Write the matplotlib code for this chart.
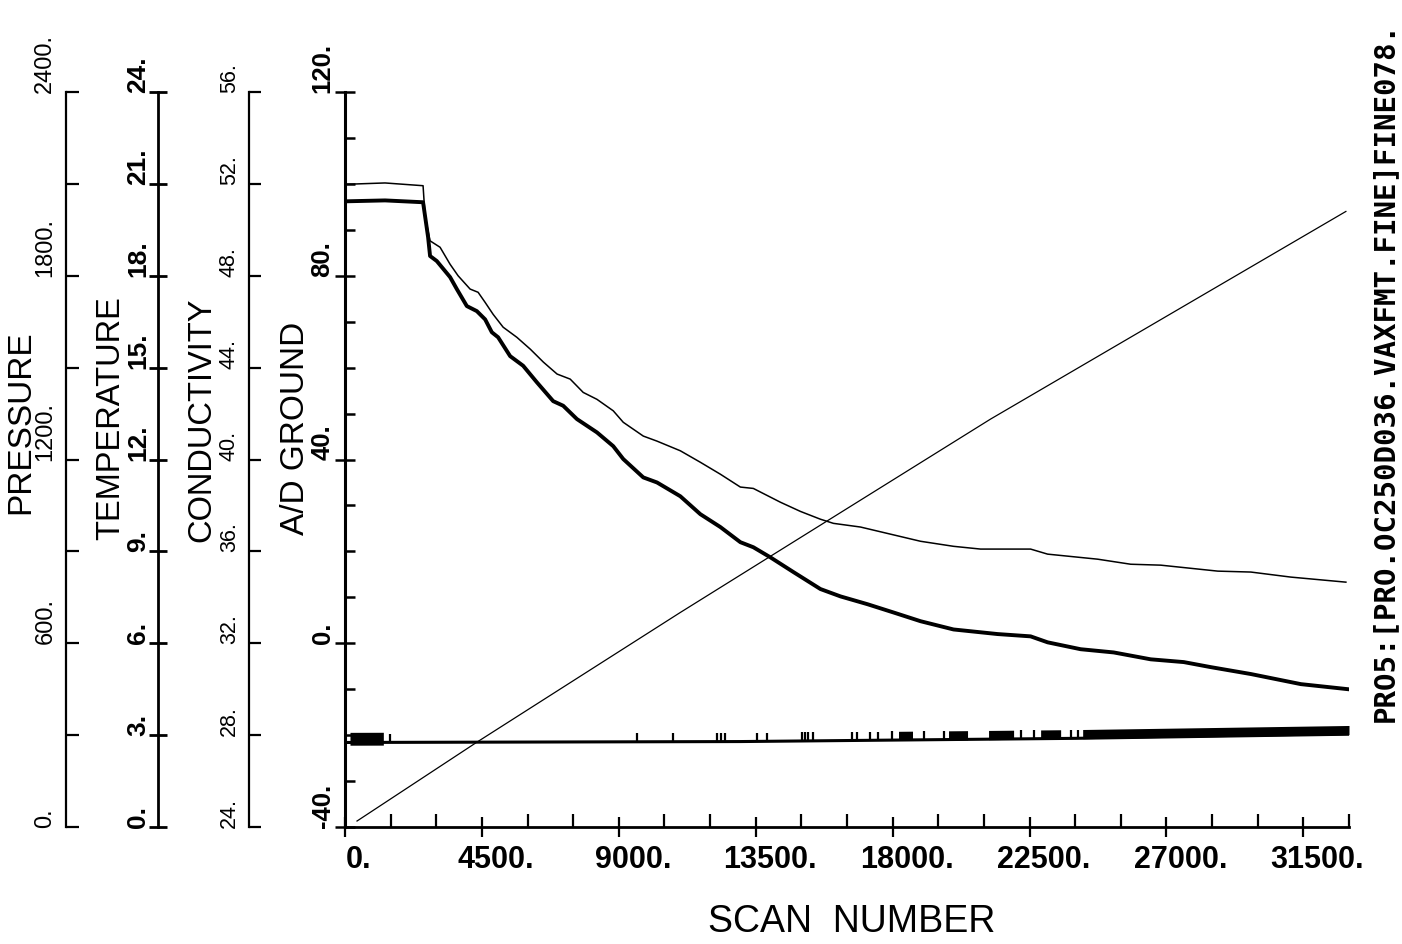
import numpy as np
import matplotlib.pyplot as plt
from matplotlib.ticker import FixedLocator, MultipleLocator
from matplotlib.transforms import ScaledTranslation

plt.rcParams['font.family'] = ['Liberation Sans', 'DejaVu Sans']

# curves, in A/D GROUND units against scan number
thick_scan = [0, 1316, 2566, 2731, 2796, 3017, 3454, 3675, 4004, 4333,
              4606, 4826, 5033, 5428, 5856, 6307, 6843, 7172, 7623, 8281,
              8817, 9146, 9804, 10255, 11021, 11679, 12337, 12995, 13422, 13982,
              14738, 15627, 16285, 17173, 18028, 18916, 20002, 21450, 22535, 23094,
              24180, 25266, 26483, 27569, 28457, 29773, 31418, 32964]
thick_val = [96.2, 96.4, 96.0, 88.4, 84.3, 83.2, 79.7, 77.1, 73.4, 72.3,
             70.5, 67.7, 66.6, 62.5, 60.4, 56.8, 52.7, 51.7, 48.8, 45.9,
             42.9, 40.1, 36.1, 35.0, 32.0, 28.1, 25.3, 22.0, 20.9, 18.7,
             15.5, 11.8, 10.2, 8.5, 6.7, 4.8, 3.0, 2.0, 1.5, 0.2,
             -1.3, -2.0, -3.5, -4.1, -5.2, -6.7, -8.9, -10.0]

thin_scan = [0, 1316, 2566, 2632, 2796, 3125, 3454, 3717, 4112, 4375,
             4606, 4869, 5198, 5649, 6093, 6520, 6971, 7402, 7830, 8281,
             8817, 9146, 9804, 10255, 11021, 11679, 12337, 12995, 13422, 14311,
             14969, 15627, 16054, 16942, 18916, 20002, 20890, 22535, 23094, 24739,
             25825, 26812, 28687, 29773, 31089, 32898]
thin_val = [99.9, 100.2, 99.6, 92.9, 87.6, 86.2, 82.5, 80.0, 77.1, 76.4,
            74.2, 71.6, 68.8, 66.6, 64.0, 61.2, 58.6, 57.5, 54.6, 53.1,
            50.6, 48.1, 45.1, 44.0, 41.9, 39.4, 36.8, 34.0, 33.7, 30.7,
            28.7, 27.0, 26.1, 25.3, 22.2, 21.1, 20.5, 20.5, 19.4, 18.3,
            17.2, 17.0, 15.7, 15.5, 14.4, 13.3]

diag_scan = [395, 4343, 11021, 21219, 32898]
diag_val = [-38.7, -21.5, 6.7, 48.8, 94.0]

# flag trace near the bottom: baseline, single spikes and solid stretches
flag_base_scan = [0, 13000, 24000, 33000]
flag_base_val = [-21.6, -21.4, -20.7, -19.8]
flag_spikes = [1480, 9596, 10781, 12228, 12360, 12501, 13544, 13873,
               15034, 15133, 15232, 15396, 16679, 16844, 17271, 17535,
               17995, 19015, 19673, 22206, 22634, 23851, 24081]
flag_dense = [(18193, 18653), (19837, 20462), (21153, 21976),
              (22864, 23522), (24246, 33000)]
flag_start = (164, 1260)
spike_h = 1.9

x_major = [0, 4500, 9000, 13500, 18000, 22500, 27000, 31500]
x_labels = ['0.', '4500.', '9000.', '13500.', '18000.', '22500.', '27000.', '31500.']

ad_ticks = [-40, 0, 40, 80, 120]
ad_labels = ['-40.', '0.', '40.', '80.', '120.']
p_ticks = [0, 600, 1200, 1800, 2400]
p_labels = ['0.', '600.', '1200.', '1800.', '2400.']
t_ticks = [0, 3, 6, 9, 12, 15, 18, 21, 24]
t_labels = ['0.', '3.', '6.', '9.', '12.', '15.', '18.', '21.', '24.']
c_ticks = [24, 28, 32, 36, 40, 44, 48, 52, 56]
c_labels = ['24.', '28.', '32.', '36.', '40.', '44.', '48.', '52.', '56.']

W, H = 1402, 945
fig = plt.figure(figsize=(W / 100, H / 100), dpi=100)
fig.patch.set_facecolor('white')

left, right, top, bottom = 345, 1349, 93, 828
ax = fig.add_axes([left / W, 1 - bottom / H, (right - left) / W, (bottom - top) / H])
ax.set_xlim(0, 33000)
ax.set_ylim(-40, 120)
ax.patch.set_alpha(0)
for s in ['top', 'right']:
    ax.spines[s].set_visible(False)
ax.spines['left'].set_linewidth(2.2)
ax.spines['bottom'].set_linewidth(2.0)

# x axis
ax.xaxis.set_major_locator(FixedLocator(x_major))
ax.set_xticklabels(x_labels, fontsize=22, fontweight='bold')
ax.xaxis.set_minor_locator(MultipleLocator(1500))
ax.tick_params(axis='x', which='major', direction='inout', length=14, width=1.6, pad=5)
ax.tick_params(axis='x', which='minor', direction='in', length=9.5, width=1.6)
shift = ScaledTranslation(0.14, 0, fig.dpi_scale_trans)
for lab in ax.get_xticklabels():
    lab.set_transform(lab.get_transform() + shift)

# A/D ground axis
ax.yaxis.set_major_locator(FixedLocator(ad_ticks))
ax.set_yticklabels(ad_labels, fontsize=18.5, fontweight='bold')
ax.yaxis.set_minor_locator(MultipleLocator(10))
ax.tick_params(axis='y', which='major', direction='inout', length=14, width=1.8, pad=0.5,
               labelrotation=90)
ax.tick_params(axis='y', which='minor', direction='in', length=7.5, width=1.8)
for lab in ax.get_yticklabels():
    lab.set_va('bottom')


def side_axis(pos_px, lim, ticks, labels, minor, size, weight, tdir, tlen, pad, lw):
    a = ax.twinx()
    a.set_ylim(*lim)
    for s in ['top', 'right', 'bottom']:
        a.spines[s].set_visible(False)
    a.spines['left'].set_visible(True)
    a.spines['left'].set_position(('axes', (pos_px - left) / (right - left)))
    a.spines['left'].set_linewidth(lw)
    a.yaxis.set_ticks_position('left')
    a.yaxis.set_major_locator(FixedLocator(ticks))
    a.set_yticklabels(labels, fontsize=size, fontweight=weight)
    if minor:
        a.yaxis.set_minor_locator(MultipleLocator(minor))
        a.tick_params(axis='y', which='minor', direction='in', length=tlen, width=lw)
    a.tick_params(axis='y', which='major', direction=tdir, length=tlen, width=lw,
                  pad=pad, labelrotation=90)
    for lab in a.get_yticklabels():
        lab.set_va('bottom')
    return a


side_axis(66, (0, 2400), p_ticks, p_labels, 300, 17, 'normal', 'in', 9.5, 7, 1.6)
side_axis(158, (0, 24), t_ticks, t_labels, None, 19, 'bold', 'inout', 13, -1, 2.0)
side_axis(249, (24, 56), c_ticks, c_labels, None, 15.5, 'normal', 'in', 8.5, 6.5, 1.6)

# curves
ax.plot(thin_scan, thin_val, color='black', lw=1.1, zorder=3)
ax.plot(thick_scan, thick_val, color='black', lw=2.8, zorder=3)
ax.plot(diag_scan, diag_val, color='black', lw=0.9, zorder=3)

ax.plot(flag_base_scan, flag_base_val, color='black', lw=2.2, zorder=3)
spike_base = np.interp(flag_spikes, flag_base_scan, flag_base_val)
ax.vlines(flag_spikes, spike_base, spike_base + spike_h, color='black', lw=1.6, zorder=3)
for a, b in flag_dense:
    base = np.interp([a, b], flag_base_scan, flag_base_val)
    ax.fill_between([a, b], base - 0.1, base + spike_h, color='black', lw=0, zorder=3)
base = np.interp(flag_start, flag_base_scan, flag_base_val)
ax.fill_between(flag_start, base - 0.6, base + 2.2, color='black', lw=0, zorder=3)

# axis titles
fig.text(21 / W, 1 - 422 / H, 'PRESSURE', rotation=90, ha='center', va='center', fontsize=24)
fig.text(111 / W, 1 - 418 / H, 'TEMPERATURE', rotation=90, ha='center', va='center', fontsize=23.5)
fig.text(202 / W, 1 - 420 / H, 'CONDUCTIVITY', rotation=90, ha='center', va='center', fontsize=23.5)
fig.text(295 / W, 1 - 428 / H, 'A/D GROUND', rotation=90, ha='center', va='center', fontsize=24)
fig.text(852 / W, 1 - 922 / H, 'SCAN  NUMBER', ha='center', va='center', fontsize=27)
fig.text(1385 / W, 1 - 372 / H, 'PRO5:[PRO.OC250D036.VAXFMT.FINE]FINE078.', rotation=90,
         ha='center', va='center', fontsize=21, fontweight='bold',
         family=['DejaVu Sans Mono', 'DejaVu Sans'])

fig.savefig('out.png', dpi=100, facecolor='white')
